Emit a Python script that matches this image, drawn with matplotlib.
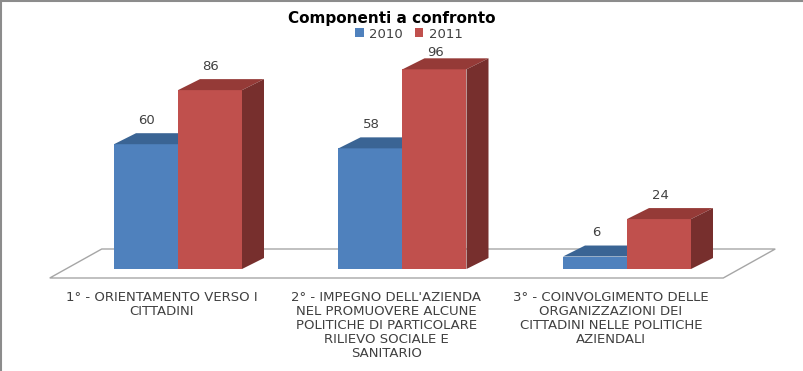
import matplotlib
matplotlib.use("Agg")
import matplotlib.pyplot as plt
from matplotlib.patches import Polygon, Patch
from matplotlib.lines import Line2D

plt.rcParams['font.family'] = ['DejaVu Sans']

categories = [
    "1° - ORIENTAMENTO VERSO I\nCITTADINI",
    "2° - IMPEGNO DELL'AZIENDA\nNEL PROMUOVERE ALCUNE\nPOLITICHE DI PARTICOLARE\nRILIEVO SOCIALE E\nSANITARIO",
    "3° - COINVOLGIMENTO DELLE\nORGANIZZAZIONI DEI\nCITTADINI NELLE POLITICHE\nAZIENDALI",
]
series_names = ["2010", "2011"]
values_2010 = [60, 58, 6]
values_2011 = [86, 96, 24]
title = "Componenti a confronto"

W, H, DPI = 804, 371, 100
fig = plt.figure(figsize=(W / DPI, H / DPI), dpi=DPI)
ax = fig.add_axes([0, 0, 1, 1])
ax.set_axis_off()

# coordinate system: x in category units, y in value units
px_per_cat = 224.5
px_per_val = 2.08
x0_px, y0_px = 178, 269
ax.set_xlim(-x0_px / px_per_cat, (W - x0_px) / px_per_cat)
ax.set_ylim((y0_px - H) / px_per_val, y0_px / px_per_val)

bar_w = 64 / px_per_cat
ddx = 22 / px_per_cat
ddy = 11 / px_per_val

# floor
fdx_front, fdy_front = -16 / px_per_cat, -9 / px_per_val
fdx_back, fdy_back = 36 / px_per_cat, 20 / px_per_val
n = len(categories)
xl, xr = -0.5, n - 0.5
floor = Polygon([(xl + fdx_front, fdy_front), (xr + fdx_front, fdy_front),
                 (xr + fdx_back, fdy_back), (xl + fdx_back, fdy_back)],
                closed=True, facecolor='white', edgecolor='#A6A6A6', lw=1.0, zorder=1)
ax.add_patch(floor)

colors = {
    "2010": ("#4F81BD", "#3A6494", "#2F5077"),
    "2011": ("#C0504D", "#953A37", "#772F2D"),
}

def draw_bar(xleft, v, cols, z):
    front, top, side = cols
    xr_ = xleft + bar_w
    ax.add_patch(Polygon([(xleft, 0), (xr_, 0), (xr_, v), (xleft, v)],
                         closed=True, facecolor=front, edgecolor='none', zorder=z))
    ax.add_patch(Polygon([(xleft, v), (xr_, v), (xr_ + ddx, v + ddy), (xleft + ddx, v + ddy)],
                         closed=True, facecolor=top, edgecolor='none', zorder=z))
    ax.add_patch(Polygon([(xr_, 0), (xr_ + ddx, ddy), (xr_ + ddx, v + ddy), (xr_, v)],
                         closed=True, facecolor=side, edgecolor='none', zorder=z))

label_off = 24 / px_per_val
label_max = (y0_px - 52) / px_per_val
for i in range(n):
    for j, (name, vals) in enumerate(zip(series_names, [values_2010, values_2011])):
        xleft = i - bar_w + j * bar_w
        draw_bar(xleft, vals[i], colors[name], 2 + i * 2 + j)
        ly = min(vals[i] + label_off, label_max)
        ax.text(xleft + bar_w / 2 + 1 / px_per_cat, ly, str(vals[i]),
                ha='center', va='center', fontsize=9.5, color='#404040', zorder=10)

# category labels
for i, lab in enumerate(categories):
    ax.text(i + fdx_front, (y0_px - 291) / px_per_val, lab, ha='center', va='top',
            fontsize=9.5, color='#404040', linespacing=1.1)

fig.text(392 / W, 1 - 18 / H, title, ha='center', va='center',
         fontsize=11, fontweight='bold', color='black')

handles = [Patch(facecolor=colors[s][0], edgecolor='none') for s in series_names]
fig.legend(handles, series_names, loc='center', bbox_to_anchor=(409 / W, 1 - 34 / H),
           ncol=2, frameon=False, fontsize=9.5, handlelength=0.65, handleheight=0.65,
           handletextpad=0.4, columnspacing=0.9, borderpad=0, labelcolor='#404040')

fig.add_artist(Line2D([0, 1], [1 - 1 / H, 1 - 1 / H], color='#8C8C8C', lw=1.5,
                      transform=fig.transFigure))
fig.add_artist(Line2D([1 / W, 1 / W], [0, 1], color='#8C8C8C', lw=1.5,
                      transform=fig.transFigure))

fig.savefig("out.png", dpi=DPI)
